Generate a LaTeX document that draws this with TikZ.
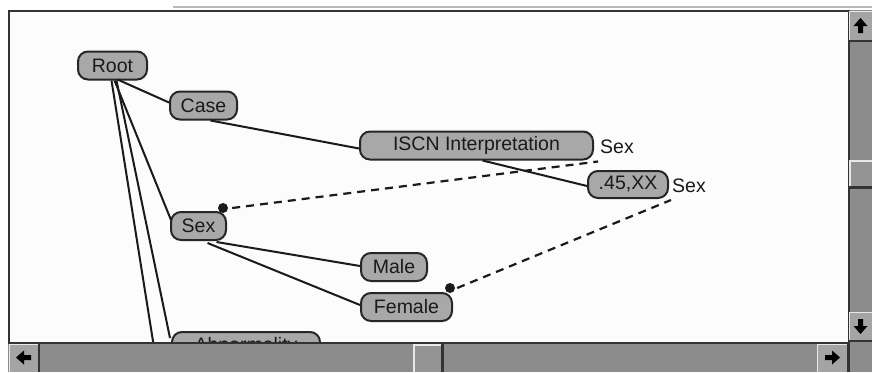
\documentclass[tikz,border=0pt]{standalone}
\usepackage{fontspec}
\setmainfont{Liberation Sans}
\usetikzlibrary{calc}
\definecolor{nodefill}{HTML}{A8A8A8}
\definecolor{nodeline}{HTML}{262626}
\definecolor{ink}{HTML}{1A1A1A}
\definecolor{canvas}{HTML}{FCFCFC}
\definecolor{trough}{HTML}{8C8C8C}
\definecolor{btn}{HTML}{A4A4A4}
\definecolor{thumbfill}{HTML}{949494}
\definecolor{bevlight}{HTML}{E8E8E8}
\definecolor{bevdark}{HTML}{333333}
\tikzset{
  pill/.style={draw=nodeline, line width=2pt, fill=nodefill, rounded corners=10pt,
    minimum height=28pt, inner sep=0pt, text=ink, font=\fontsize{19.5}{22}\selectfont},
  edge/.style={draw=ink, line width=2pt},
  link/.style={draw=ink, line width=2.2pt, dash pattern=on 8pt off 6pt},
  pin/.style={circle, fill=ink, inner sep=0pt, minimum size=10pt},
  tag/.style={inner sep=0pt, text=ink, font=\fontsize{19.5}{22}\selectfont},
  button/.style={fill=btn},
  thumb/.style={fill=thumbfill},
  arrowglyph/.style={fill=black},
}
\begin{document}
\begin{tikzpicture}[x=1pt, y=-1pt]
\useasboundingbox (0,0) rectangle (872,372);
\fill[white] (0,0) rectangle (872,372);
\fill[canvas] (10,12) rectangle (848,342);

% window edges
\draw[gray!55, line width=1.2pt] (173,7) -- (872,7);
\draw[bevdark, line width=2.5pt] (9,343) -- (9,11) -- (848,11);

% tree view
\begin{scope}
\clip (10,12) rectangle (848,342);
\node[pill, minimum width=69pt] (root) at (112.5,65.5) {Root};
\node[pill, minimum width=67pt] (case) at (203.5,105.5) {Case};
\node[pill, minimum width=233pt] (iscn) at (476.5,145.5) {ISCN Interpretation};
\node[pill, minimum width=80pt, minimum height=27pt] (xx) at (628,184.5) {.45,XX};
\node[pill, minimum width=55pt] (sex) at (198.5,226) {Sex};
\node[pill, minimum width=66pt] (male) at (394,267) {Male};
\node[pill, minimum width=91pt] (female) at (406.5,307) {Female};
\node[pill, minimum width=148pt] (abn) at (246,346) {Abnormality};

\node[tag, anchor=west] (iscnsex) at ($(iscn.east)+(6,1)$) {Sex};
\node[tag, anchor=west] (xxsex) at ($(xx.east)+(3,1.5)$) {Sex};

\coordinate (offtree) at (156,360);

\draw[edge] ($(root.south)+(5,-1)$) -- ($(case.west)+(0,-3)$);
\draw[edge] ($(case.south)+(7,0)$) -- ($(iscn.west)+(0,3)$);
\draw[edge] ($(iscn.south)+(6,0)$) -- ($(xx.west)+(0,1.5)$);
\draw[edge] ($(root.south)+(2,0)$) -- ($(sex.west)+(1,-6)$);
\draw[edge] ($(root.south)+(-1,0)$) -- (offtree);
\draw[edge] ($(root.south)+(4,0)$) -- ($(abn.west)+(-1,-8)$);
\draw[edge] ($(sex.south)+(18,1)$) -- ($(male.west)+(0,-1)$);
\draw[edge] ($(sex.south)+(9,2)$) -- ($(female.west)+(0,-2)$);

\node[pin] (sexpin) at ($(sex.north east)+(-4,-3)$) {};
\node[pin] (femalepin) at ($(female.north east)+(-3,-4)$) {};

\draw[link] ($(sexpin.east)+(4,0)$) -- ($(iscn.south east)+(4,1)$);
\draw[link] ($(femalepin.east)+(2,0)$) -- ($(xx.south east)+(2,1)$);
\end{scope}

% horizontal scroll bar
\fill[trough] (8,342) rectangle (872,372);
\draw[bevdark, line width=2pt] (8,342.5) -- (848,342.5);
\fill[button] (9,344) rectangle (38,372);
\draw[bevlight, line width=1.2pt] (9.5,372) -- (9.5,344.5) -- (38,344.5);
\draw[bevdark, line width=2pt] (38.5,344) -- (38.5,372);
\fill[arrowglyph] (16,357.5) -- (24,350.5) -- (24,355) -- (31,355) -- (31,360) -- (24,360) -- (24,364.5) -- cycle;

\fill[thumb] (413,344) rectangle (443,372);
\draw[bevlight, line width=1.8pt] (413.8,372) -- (413.8,344.8) -- (442,344.8);
\draw[bevdark, line width=2.5pt] (442.5,344) -- (442.5,372);

\fill[button] (817,344) rectangle (847,372);
\draw[bevlight, line width=1.2pt] (817.5,372) -- (817.5,344.5) -- (847,344.5);
\draw[bevdark, line width=2pt] (847.5,343) -- (847.5,372);
\fill[arrowglyph] (840,357.5) -- (832,350.5) -- (832,355) -- (825,355) -- (825,360) -- (832,360) -- (832,364.5) -- cycle;

% vertical scroll bar
\fill[trough] (848,10) rectangle (872,342);
\draw[bevdark, line width=2pt] (848.5,10) -- (848.5,372);
\fill[button] (849,11) rectangle (872,40);
\draw[bevlight, line width=1.2pt] (849.5,40) -- (849.5,11.5) -- (872,11.5);
\draw[bevdark, line width=2.5pt] (849,41) -- (872,41);
\fill[arrowglyph] (860.5,18) -- (867.5,26) -- (863,26) -- (863,33) -- (858,33) -- (858,26) -- (853.5,26) -- cycle;

\fill[thumb] (849,160) rectangle (872,187);
\draw[bevlight, line width=1.8pt] (849.8,187) -- (849.8,160.8) -- (872,160.8);
\draw[bevdark, line width=2.5pt] (849,187.5) -- (872,187.5);

\fill[button] (849,312) rectangle (872,340);
\draw[bevlight, line width=1.2pt] (849.5,340) -- (849.5,312.5) -- (872,312.5);
\draw[bevdark, line width=2pt] (849,340.5) -- (872,340.5);
\fill[arrowglyph] (860.5,334) -- (867.5,326) -- (863,326) -- (863,319) -- (858,319) -- (858,326) -- (853.5,326) -- cycle;
\end{tikzpicture}
\end{document}
